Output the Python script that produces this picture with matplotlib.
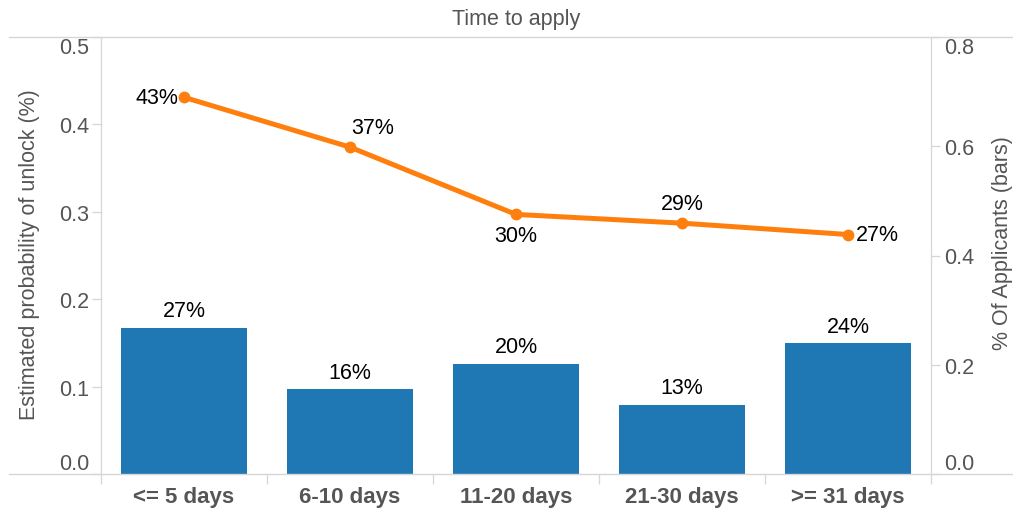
import matplotlib
matplotlib.use("Agg")
import matplotlib.pyplot as plt
from matplotlib.lines import Line2D
import numpy as np

categories = ["<= 5 days", "6-10 days", "11-20 days", "21-30 days", ">= 31 days"]
applicants_share = [0.268, 0.156, 0.202, 0.127, 0.239]   # bars, right axis
unlock_prob = [0.431, 0.374, 0.297, 0.287, 0.274]        # line, left axis
left_ticks = [0.0, 0.1, 0.2, 0.3, 0.4, 0.5]
right_ticks = [0.0, 0.2, 0.4, 0.6, 0.8]

plt.rcParams['font.family'] = ['Liberation Sans', 'DejaVu Sans']

BLUE = "#1f77b4"
ORANGE = "#ff7f0e"
GRID = "#d6d6d6"
TXT = "#555555"
FS = 15.5

W, H = 1013, 510
fig = plt.figure(figsize=(W / 100, H / 100), dpi=100)
L, R, T, B = 101, 931, 38, 475
ax = fig.add_axes([L / W, 1 - B / H, (R - L) / W, (B - T) / H])
ax2 = ax.twinx()

x = np.arange(len(categories))

# bars on right axis
ax2.bar(x, applicants_share, width=0.765, color=BLUE, zorder=2)
for xi, v in zip(x, applicants_share):
    ax2.annotate(f"{v:.0%}", (xi, v), xytext=(0, 12), textcoords="offset points",
                 ha="center", va="center", fontsize=FS, color="black")

# line on left axis, drawn above bars
ax.set_zorder(ax2.get_zorder() + 1)
ax.patch.set_visible(False)
ax.plot(x, unlock_prob, color=ORANGE, lw=3.6, marker="o", markersize=7.5,
        solid_capstyle="round", zorder=3)
offsets = [(-4, 0, "right", "center"), (1, 14, "left", "center"),
           (0, -15, "center", "center"), (0, 14, "center", "center"),
           (6, 0, "left", "center")]
for xi, v, (dx, dy, ha, va) in zip(x, unlock_prob, offsets):
    ax.annotate(f"{v:.0%}", (xi, v), xytext=(dx, dy), textcoords="offset points",
                ha=ha, va=va, fontsize=FS, color="black")

ax.set_xlim(-0.5, len(categories) - 0.5)
ax.set_ylim(0, 0.5)
ax2.set_ylim(0, 0.8)

ax.set_yticks(left_ticks, [f"{t:.1f}" for t in left_ticks])
ax2.set_yticks(right_ticks, [f"{t:.1f}" for t in right_ticks])
ax.tick_params(axis="y", length=6.5, width=0.9, color=GRID, labelsize=FS,
               labelcolor=TXT, pad=2)
ax2.tick_params(axis="y", length=6.5, width=0.9, color=GRID, labelsize=FS,
                labelcolor=TXT, pad=3)
lbls = ax.get_yticklabels()
lbls[0].set_va("bottom"); lbls[-1].set_va("top")
lbls2 = ax2.get_yticklabels()
lbls2[0].set_va("bottom"); lbls2[-1].set_va("top")

ax.set_xticks(x, categories)
ax.set_xticks(np.arange(-0.5, len(categories)), minor=True)
ax.tick_params(axis="x", which="major", length=0, pad=9, labelsize=FS + 0.5,
               labelcolor=TXT)
for t in ax.get_xticklabels():
    t.set_fontweight("bold")
ax.tick_params(axis="x", which="minor", length=7.5, width=0.9, color=GRID)
ax2.tick_params(axis="x", which="both", length=0)

for a in (ax, ax2):
    for s in ("top", "bottom", "left", "right"):
        a.spines[s].set_visible(False)
ax.spines["left"].set_visible(True)
ax.spines["left"].set_color(GRID)
ax.spines["left"].set_linewidth(0.9)
ax2.spines["right"].set_visible(True)
ax2.spines["right"].set_color(GRID)
ax2.spines["right"].set_linewidth(0.9)

ax.set_ylabel("Estimated probability of unlock (%)", fontsize=FS, color=TXT)
ax.yaxis.set_label_coords(-0.074, 0.505)
ax2.set_ylabel("% Of Applicants (bars)", fontsize=FS, color=TXT, rotation=90)
ax2.yaxis.set_label_coords(1.073, 0.53)

ax.set_title("Time to apply", fontsize=FS, color=TXT, pad=9.5)

# full-width frame lines
for yp in (T, B):
    fig.add_artist(Line2D([9 / W, 1], [1 - yp / H, 1 - yp / H],
                          transform=fig.transFigure, color=GRID, lw=1.0))

fig.savefig("out.png", dpi=100)
